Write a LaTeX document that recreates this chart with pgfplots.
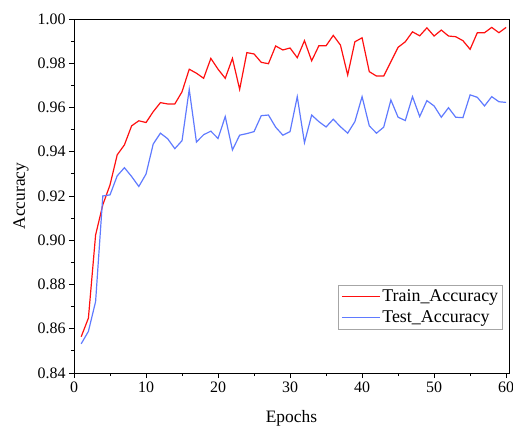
\documentclass[border=0pt]{standalone}
\usepackage{fontspec}
\setmainfont{Liberation Serif}
\usepackage{pgfplots}
\pgfplotsset{compat=1.18}
\definecolor{trainred}{RGB}{255,15,15}
\definecolor{testblue}{RGB}{95,122,255}
\begin{document}
\begin{tikzpicture}
\begin{axis}[
  name=ax,
  scale only axis,
  width=435bp, height=354bp,
  xmin=0, xmax=60.4,
  ymin=0.84, ymax=1.00,
  xtick={0,10,20,30,40,50,60},
  ytick={0.84,0.86,0.88,0.90,0.92,0.94,0.96,0.98,1.00},
  minor x tick num=1,
  minor y tick num=1,
  xtick pos=left, ytick pos=left,
  tick align=outside,
  major tick length=5bp, minor tick length=3bp,
  every tick/.style={black, line width=0.8pt},
  axis line style={black, line width=0.9pt},
  yticklabel style={/pgf/number format/.cd, fixed, fixed zerofill, precision=2},
  /pgf/number format/assume math mode=true,
  ticklabel style={font=\fontsize{16}{18}\selectfont},
  label style={font=\fontsize{17.5}{20}\selectfont},
  xlabel={Epochs},
  ylabel={Accuracy},
  xlabel style={at={(axis description cs:0.5,-0.127)}, anchor=center},
  ylabel style={at={(axis description cs:-0.122,0.5)}, anchor=center},
  legend style={at={(0.986,0.124)}, anchor=south east, draw=gray!70, line width=0.5pt,
    font=\fontsize{18}{20}\selectfont, inner sep=2.5pt, row sep=4pt},
  legend cell align=left,
  legend image code/.code={\draw[#1, line width=1.1pt] (0bp,0bp) -- (38bp,0bp);},
]
\addplot[trainred, line width=1.2pt] coordinates {
(1,0.8564)(2,0.8648)(3,0.9024)(4,0.9160)(5,0.9250)(6,0.9386)(7,0.9431)(8,0.9517)(9,0.9540)(10,0.9532)
(11,0.9581)(12,0.9622)(13,0.9616)(14,0.9616)(15,0.9671)(16,0.9773)(17,0.9755)(18,0.9732)(19,0.9822)(20,0.9773)
(21,0.9732)(22,0.9822)(23,0.9682)(24,0.9848)(25,0.9842)(26,0.9804)(27,0.9798)(28,0.9878)(29,0.9860)(30,0.9869)
(31,0.9825)(32,0.9902)(33,0.9811)(34,0.9879)(35,0.9879)(36,0.9926)(37,0.9882)(38,0.9747)(39,0.9897)(40,0.9915)
(41,0.9762)(42,0.9742)(43,0.9742)(44,0.9807)(45,0.9872)(46,0.9897)(47,0.9942)(48,0.9924)(49,0.9960)(50,0.9923)
(51,0.9950)(52,0.9923)(53,0.9920)(54,0.9902)(55,0.9863)(56,0.9938)(57,0.9938)(58,0.9962)(59,0.9938)(60,0.9962)
};
\addlegendentry{Train\_Accuracy}
\addplot[testblue, line width=1.2pt] coordinates {
(1,0.8532)(2,0.8588)(3,0.8723)(4,0.9200)(5,0.9205)(6,0.9291)(7,0.9328)(8,0.9288)(9,0.9243)(10,0.9299)
(11,0.9435)(12,0.9484)(13,0.9459)(14,0.9414)(15,0.9450)(16,0.9682)(17,0.9444)(18,0.9477)(19,0.9493)(20,0.9460)
(21,0.9559)(22,0.9408)(23,0.9475)(24,0.9482)(25,0.9491)(26,0.9563)(27,0.9566)(28,0.9511)(29,0.9475)(30,0.9491)
(31,0.9649)(32,0.9441)(33,0.9566)(34,0.9536)(35,0.9512)(36,0.9547)(37,0.9513)(38,0.9484)(39,0.9536)(40,0.9649)
(41,0.9517)(42,0.9484)(43,0.9511)(44,0.9634)(45,0.9556)(46,0.9541)(47,0.9649)(48,0.9559)(49,0.9631)(50,0.9607)
(51,0.9556)(52,0.9599)(53,0.9556)(54,0.9554)(55,0.9657)(56,0.9646)(57,0.9607)(58,0.9649)(59,0.9626)(60,0.9623)
};
\addlegendentry{Test\_Accuracy}
\end{axis}
\pgfresetboundingbox
\path ([shift={(-74bp,-57bp)}]ax.south west) rectangle ([shift={(4bp,19bp)}]ax.north east);
\end{tikzpicture}
\end{document}
